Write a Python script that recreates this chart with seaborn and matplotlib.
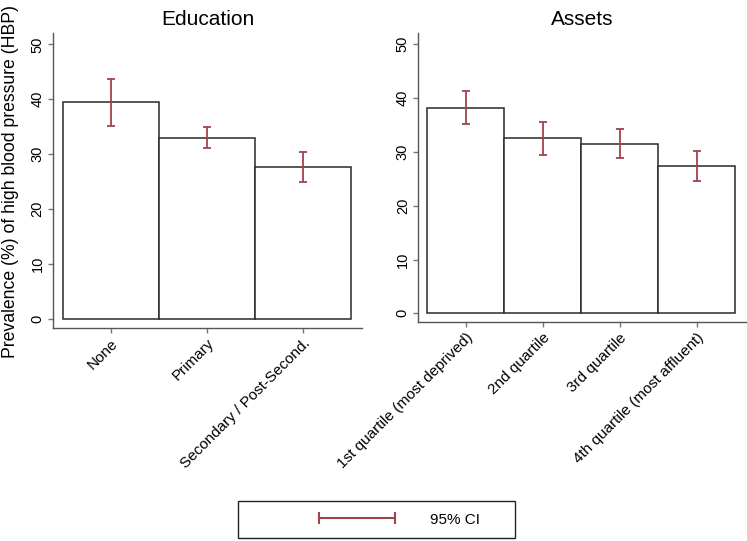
import numpy as np
import pandas as pd
import seaborn as sns
import matplotlib.pyplot as plt
from matplotlib.lines import Line2D
from matplotlib.patches import Rectangle

# Dados ------------------------------------------------------------------------

edu_cats = ["None", "Primary", "Secondary / Post-Second."]
edu_prev = [39.5, 33.0, 27.7]
edu_lo = [35.1, 31.1, 25.0]
edu_hi = [43.7, 34.9, 30.4]

asset_cats = ["1st quartile (most deprived)", "2nd quartile", "3rd quartile",
              "4th quartile (most affluent)"]
asset_prev = [38.2, 32.5, 31.5, 27.4]
asset_lo = [35.2, 29.4, 28.9, 24.6]
asset_hi = [41.3, 35.6, 34.3, 30.2]

ci_color = "#A2424E"
spine_color = "#555555"

sns.set_style("ticks")
plt.rcParams["font.family"] = ["Liberation Sans", "DejaVu Sans"]
plt.rcParams["text.color"] = "black"
plt.rcParams["xtick.labelcolor"] = "black"
plt.rcParams["ytick.labelcolor"] = "black"

fig = plt.figure(figsize = (7.47, 5.41), dpi = 100)

# Painéis ----------------------------------------------------------------------

def panel(rect, cats, prev, lo, hi, title, xlim, ylim):
    ax = fig.add_axes(rect)
    df = pd.DataFrame({"cat": cats, "prev": prev})
    sns.barplot(data = df, x = "cat", y = "prev", width = 1, color = "white",
                edgecolor = "#2a2a2a", linewidth = 1.1, ax = ax)
    x = np.arange(len(cats))
    prev = np.array(prev)
    yerr = [prev - np.array(lo), np.array(hi) - prev]
    ax.errorbar(x, prev, yerr = yerr, fmt = "none", ecolor = ci_color,
                elinewidth = 1.3, capsize = 3, capthick = 1.3, zorder = 5)
    ax.set_xlim(*xlim)
    ax.set_ylim(*ylim)
    ax.set_yticks([0, 10, 20, 30, 40, 50])
    ax.set_xlabel("")
    ax.set_ylabel("")
    ax.set_title(title, fontsize = 15, pad = 6, color = "black")
    sns.despine(ax = ax)
    for s in ["left", "bottom"]:
        ax.spines[s].set_color(spine_color)
        ax.spines[s].set_linewidth(1.0)
    ax.tick_params(axis = "both", length = 3.6, width = 1, color = "#777777", pad = 2.5)
    ax.tick_params(axis = "y", labelsize = 10.5, labelrotation = 90)
    for t in ax.get_yticklabels():
        t.set_va("center")
    ax.tick_params(axis = "x", labelsize = 11)
    for t in ax.get_xticklabels():
        t.set_rotation(45)
        t.set_ha("right")
        t.set_va("top")
        t.set_rotation_mode("anchor")
    return ax

panel([53 / 747, 213 / 541, 309 / 747, 295 / 541], edu_cats, edu_prev, edu_lo, edu_hi,
      "Education", (-0.601, 2.614), (-1.64, 52.06))
panel([418.3 / 747, 218.7 / 541, 328.7 / 747, 289 / 541], asset_cats, asset_prev,
      asset_lo, asset_hi, "Assets", (-0.617, 3.656), (-1.67, 52.04))

fig.text(10.5 / 747, 1 - 181.5 / 541, "Prevalence (%) of high blood pressure (HBP)",
         rotation = 90, ha = "center", va = "center", fontsize = 12.7)

# Legenda ----------------------------------------------------------------------

fig.patches.append(Rectangle((238 / 747, 3 / 541), 277 / 747, 37 / 541,
                             transform = fig.transFigure, fill = False,
                             edgecolor = "#222222", linewidth = 1.0))
handle = Line2D([], [], color = ci_color, lw = 1.5, marker = "|", markersize = 8,
                markeredgewidth = 1.5)
fig.legend([handle], ["95% CI"], loc = "center", bbox_to_anchor = (397 / 747, 21.5 / 541),
           frameon = False, numpoints = 2, handlelength = 5.6, handletextpad = 2.0,
           fontsize = 11)

fig.savefig("out.png", dpi = 100)
